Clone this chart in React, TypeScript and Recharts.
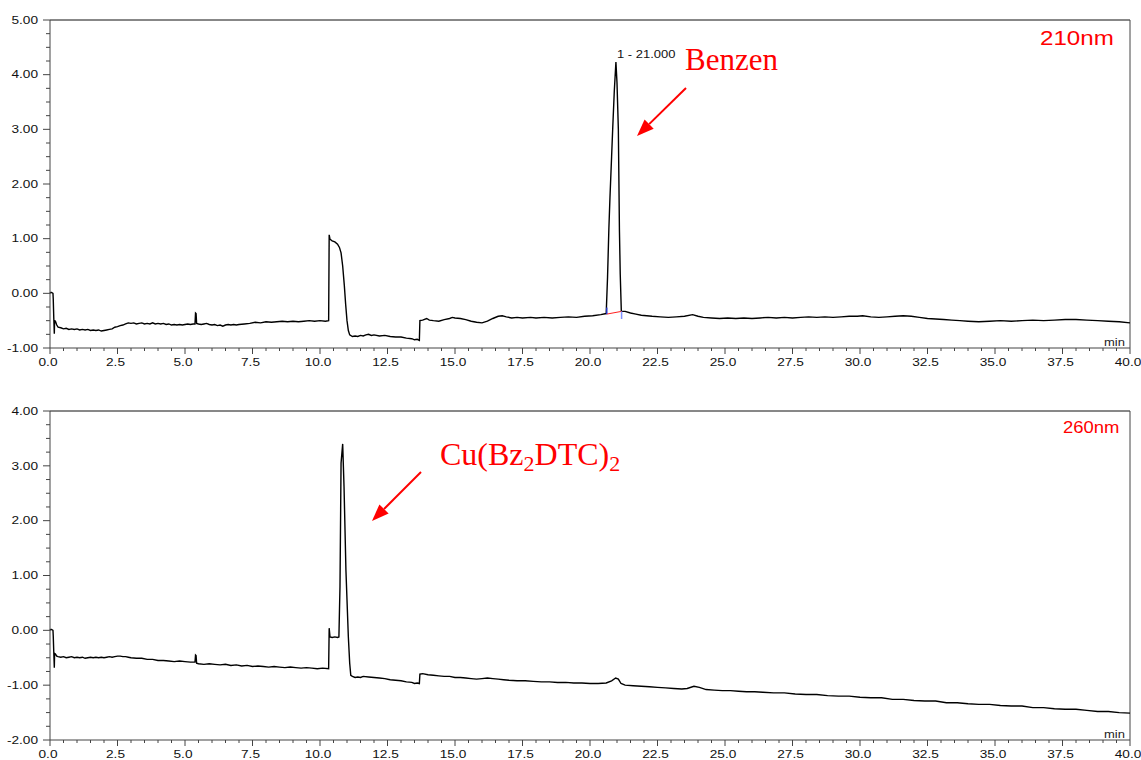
import { LineChart, Line, XAxis, YAxis, ReferenceLine, ReferenceDot } from "recharts";

// chromatogram at 210 nm: [time (min), absorbance]
const trace210: [number, number][] = [
  [0, 0.0], [0.04, 0.02], [0.08, 0.01], [0.11, 0.0], [0.12, -0.1], [0.14, -0.45], [0.16, -0.74], [0.17, -0.5],
  [0.2, -0.51], [0.25, -0.58], [0.3, -0.62], [0.4, -0.63], [0.5, -0.65], [0.6, -0.64], [0.7, -0.66], [0.8, -0.65],
  [0.9, -0.66], [1.0, -0.65], [1.1, -0.67], [1.2, -0.66], [1.3, -0.67], [1.4, -0.66], [1.5, -0.68], [1.6, -0.67],
  [1.7, -0.68], [1.8, -0.67], [1.9, -0.69], [2.0, -0.68], [2.1, -0.67], [2.2, -0.66], [2.3, -0.65], [2.4, -0.62],
  [2.5, -0.61], [2.6, -0.59], [2.7, -0.58], [2.8, -0.56], [2.9, -0.54], [3.0, -0.55], [3.1, -0.54], [3.2, -0.56],
  [3.3, -0.55], [3.4, -0.54], [3.5, -0.56], [3.6, -0.55], [3.7, -0.56], [3.8, -0.54], [3.9, -0.56], [4.0, -0.55],
  [4.1, -0.56], [4.2, -0.55], [4.3, -0.57], [4.4, -0.56], [4.5, -0.58], [4.6, -0.57], [4.7, -0.58], [4.8, -0.57],
  [4.9, -0.58], [5.0, -0.57], [5.1, -0.56], [5.2, -0.57], [5.3, -0.56], [5.37, -0.56], [5.39, -0.36], [5.41, -0.37],
  [5.43, -0.55], [5.5, -0.56], [5.6, -0.57], [5.7, -0.56], [5.8, -0.55], [5.9, -0.57], [6.0, -0.58], [6.1, -0.57],
  [6.2, -0.59], [6.3, -0.58], [6.4, -0.6], [6.5, -0.58], [6.6, -0.57], [6.7, -0.58], [6.8, -0.57], [6.9, -0.58],
  [7.0, -0.57], [7.2, -0.56], [7.4, -0.55], [7.6, -0.53], [7.8, -0.54], [8.0, -0.52], [8.2, -0.53], [8.4, -0.52],
  [8.6, -0.51], [8.8, -0.52], [9.0, -0.51], [9.2, -0.52], [9.4, -0.51], [9.6, -0.5], [9.8, -0.51], [10.0, -0.5],
  [10.2, -0.51], [10.32, -0.5], [10.34, 1.07], [10.37, 0.99], [10.45, 0.96], [10.55, 0.94], [10.65, 0.9], [10.72, 0.84],
  [10.78, 0.74], [10.84, 0.5], [10.9, 0.15], [10.95, -0.2], [11.0, -0.5], [11.05, -0.68], [11.1, -0.76], [11.2, -0.79],
  [11.3, -0.78], [11.4, -0.79], [11.5, -0.77], [11.6, -0.78], [11.7, -0.76], [11.8, -0.75], [11.9, -0.77], [12.0, -0.76],
  [12.2, -0.78], [12.4, -0.77], [12.6, -0.79], [12.8, -0.8], [13.0, -0.8], [13.2, -0.82], [13.4, -0.83], [13.5, -0.85],
  [13.6, -0.84], [13.68, -0.86], [13.7, -0.5], [13.8, -0.49], [13.95, -0.46], [14.05, -0.49], [14.2, -0.5], [14.4, -0.51],
  [14.6, -0.48], [14.8, -0.46], [14.9, -0.44], [15.0, -0.45], [15.2, -0.46], [15.4, -0.48], [15.6, -0.51], [15.8, -0.53],
  [16.0, -0.54], [16.2, -0.51], [16.4, -0.46], [16.6, -0.42], [16.75, -0.41], [16.9, -0.43], [17.1, -0.45], [17.3, -0.44],
  [17.5, -0.45], [17.8, -0.44], [18.0, -0.45], [18.3, -0.44], [18.6, -0.45], [18.9, -0.44], [19.2, -0.43], [19.5, -0.44],
  [19.8, -0.42], [20.1, -0.41], [20.4, -0.39], [20.6, -0.37], [20.65, 0.3], [20.7, 1.2], [20.74, 1.76], [20.8, 2.5],
  [20.84, 3.0], [20.9, 3.7], [20.96, 4.23], [21.0, 3.85], [21.05, 3.0], [21.09, 1.16], [21.12, 0.35], [21.16, -0.33],
  [21.3, -0.33], [21.5, -0.36], [21.7, -0.38], [21.9, -0.4], [22.1, -0.41], [22.3, -0.42], [22.6, -0.43], [22.9, -0.44],
  [23.2, -0.43], [23.5, -0.42], [23.8, -0.39], [24.0, -0.42], [24.2, -0.44], [24.5, -0.45], [24.8, -0.46], [25.1, -0.45],
  [25.4, -0.46], [25.7, -0.45], [26.0, -0.46], [26.3, -0.45], [26.6, -0.44], [26.9, -0.45], [27.2, -0.44], [27.5, -0.45],
  [27.8, -0.44], [28.1, -0.43], [28.4, -0.44], [28.7, -0.43], [29.0, -0.44], [29.3, -0.43], [29.6, -0.42], [29.9, -0.42],
  [30.1, -0.41], [30.4, -0.43], [30.7, -0.44], [31.0, -0.43], [31.3, -0.42], [31.6, -0.41], [31.9, -0.42], [32.2, -0.44],
  [32.5, -0.46], [32.8, -0.47], [33.1, -0.48], [33.4, -0.49], [33.7, -0.5], [34.0, -0.51], [34.4, -0.52], [34.8, -0.51],
  [35.2, -0.5], [35.6, -0.51], [36.0, -0.5], [36.4, -0.49], [36.8, -0.5], [37.2, -0.49], [37.6, -0.48], [38.0, -0.48],
  [38.4, -0.49], [38.8, -0.5], [39.2, -0.51], [39.6, -0.52], [40.0, -0.54],
];

// chromatogram at 260 nm
const trace260: [number, number][] = [
  [0, 0.0], [0.04, 0.02], [0.08, 0.01], [0.11, 0.0], [0.12, -0.1], [0.14, -0.4], [0.16, -0.68], [0.17, -0.42],
  [0.2, -0.43], [0.25, -0.47], [0.3, -0.48], [0.4, -0.49], [0.5, -0.48], [0.6, -0.5], [0.7, -0.49], [0.8, -0.48],
  [0.9, -0.5], [1.0, -0.49], [1.1, -0.5], [1.2, -0.49], [1.3, -0.51], [1.4, -0.5], [1.5, -0.49], [1.6, -0.5],
  [1.7, -0.49], [1.8, -0.5], [1.9, -0.49], [2.0, -0.5], [2.1, -0.49], [2.2, -0.48], [2.3, -0.49], [2.4, -0.48],
  [2.5, -0.47], [2.6, -0.47], [2.7, -0.48], [2.8, -0.48], [2.9, -0.49], [3.0, -0.5], [3.2, -0.51], [3.4, -0.51],
  [3.6, -0.53], [3.8, -0.53], [4.0, -0.55], [4.2, -0.55], [4.4, -0.56], [4.6, -0.57], [4.8, -0.56], [5.0, -0.57],
  [5.2, -0.58], [5.37, -0.58], [5.39, -0.45], [5.41, -0.46], [5.43, -0.6], [5.5, -0.61], [5.7, -0.62], [5.9, -0.61],
  [6.1, -0.62], [6.3, -0.63], [6.5, -0.62], [6.7, -0.64], [6.9, -0.63], [7.1, -0.65], [7.3, -0.64], [7.5, -0.66],
  [7.7, -0.65], [7.9, -0.66], [8.1, -0.67], [8.3, -0.66], [8.5, -0.67], [8.7, -0.68], [8.9, -0.67], [9.1, -0.68],
  [9.3, -0.69], [9.5, -0.68], [9.7, -0.69], [9.9, -0.7], [10.1, -0.69], [10.32, -0.7], [10.34, 0.04], [10.37, -0.12],
  [10.45, -0.13], [10.55, -0.12], [10.65, -0.13], [10.7, -0.12], [10.74, 0.79], [10.78, 3.05], [10.84, 3.4], [10.89, 2.62],
  [10.96, 1.1], [11.05, -0.12], [11.1, -0.6], [11.14, -0.82], [11.2, -0.84], [11.3, -0.86], [11.4, -0.85], [11.5, -0.86],
  [11.6, -0.84], [11.8, -0.85], [12.0, -0.86], [12.2, -0.87], [12.4, -0.88], [12.6, -0.9], [12.8, -0.91], [13.0, -0.92],
  [13.2, -0.94], [13.4, -0.95], [13.5, -0.97], [13.6, -0.96], [13.68, -0.97], [13.7, -0.8], [13.8, -0.79], [14.0, -0.81],
  [14.2, -0.82], [14.4, -0.83], [14.6, -0.84], [14.8, -0.84], [15.0, -0.86], [15.2, -0.86], [15.4, -0.87], [15.6, -0.88],
  [15.8, -0.89], [16.0, -0.88], [16.2, -0.87], [16.4, -0.88], [16.6, -0.89], [16.8, -0.9], [17.0, -0.91], [17.3, -0.92],
  [17.6, -0.92], [17.9, -0.93], [18.2, -0.94], [18.5, -0.94], [18.8, -0.95], [19.1, -0.95], [19.4, -0.96], [19.7, -0.96],
  [20.0, -0.97], [20.3, -0.97], [20.6, -0.96], [20.8, -0.92], [20.95, -0.87], [21.05, -0.89], [21.15, -0.97], [21.3, -1.0],
  [21.6, -1.01], [21.9, -1.02], [22.2, -1.03], [22.5, -1.04], [22.8, -1.05], [23.1, -1.06], [23.4, -1.07], [23.6, -1.06],
  [23.85, -1.02], [24.05, -1.04], [24.3, -1.08], [24.6, -1.09], [24.9, -1.1], [25.2, -1.1], [25.5, -1.11], [25.8, -1.12],
  [26.1, -1.12], [26.4, -1.13], [26.8, -1.14], [27.2, -1.14], [27.6, -1.16], [28.0, -1.17], [28.4, -1.17], [28.8, -1.19],
  [29.2, -1.2], [29.6, -1.2], [30.0, -1.22], [30.4, -1.23], [30.8, -1.23], [31.2, -1.26], [31.6, -1.26], [32.0, -1.28],
  [32.4, -1.29], [32.8, -1.29], [33.2, -1.32], [33.6, -1.32], [34.0, -1.34], [34.4, -1.35], [34.8, -1.35], [35.2, -1.37],
  [35.6, -1.38], [36.0, -1.38], [36.4, -1.41], [36.8, -1.41], [37.2, -1.43], [37.6, -1.44], [38.0, -1.44], [38.4, -1.46],
  [38.8, -1.48], [39.2, -1.48], [39.6, -1.5], [40.0, -1.51],
];

const xTicks = [
  0, 0.5, 1, 1.5, 2, 2.5, 3, 3.5, 4, 4.5, 5, 5.5, 6, 6.5, 7, 7.5, 8, 8.5, 9, 9.5,
  10, 10.5, 11, 11.5, 12, 12.5, 13, 13.5, 14, 14.5, 15, 15.5, 16, 16.5, 17, 17.5, 18, 18.5, 19, 19.5,
  20, 20.5, 21, 21.5, 22, 22.5, 23, 23.5, 24, 24.5, 25, 25.5, 26, 26.5, 27, 27.5, 28, 28.5, 29, 29.5,
  30, 30.5, 31, 31.5, 32, 32.5, 33, 33.5, 34, 34.5, 35, 35.5, 36, 36.5, 37, 37.5, 38, 38.5, 39, 39.5, 40,
];
const yTicks210 = [
  -1, -0.75, -0.5, -0.25, 0, 0.25, 0.5, 0.75, 1, 1.25, 1.5, 1.75, 2, 2.25, 2.5, 2.75, 3, 3.25, 3.5, 3.75,
  4, 4.25, 4.5, 4.75, 5,
];
const yTicks260 = [
  -2, -1.75, -1.5, -1.25, -1, -0.75, -0.5, -0.25, 0, 0.25, 0.5, 0.75, 1, 1.25, 1.5, 1.75, 2, 2.25, 2.5, 2.75,
  3, 3.25, 3.5, 3.75, 4,
];

const data210 = trace210.map(([t, v]) => ({ t, v }));
const data260 = trace260.map(([t, v]) => ({ t, v }));

const sans = "'Liberation Sans', Arial, sans-serif";
const serif = "'Liberation Serif', 'Times New Roman', serif";
const axisColor = "#444";

function XTick(props: any) {
  const { x, y, payload } = props;
  const v = payload.value as number;
  const major = Math.abs(v / 2.5 - Math.round(v / 2.5)) < 1e-6;
  return (
    <g>
      <line x1={x} y1={y} x2={x} y2={y + (major ? 6 : 3)} stroke={axisColor} />
      {major && (
        <text
          transform={`translate(${x - 2},${y + 18}) scale(1.3,1)`}
          textAnchor="middle"
          fontSize={10.5}
          fontFamily={sans}
          fill="#111"
        >
          {v.toFixed(1)}
        </text>
      )}
    </g>
  );
}

function YTick(props: any) {
  const { x, y, payload } = props;
  const v = payload.value as number;
  const major = Number.isInteger(v);
  return (
    <g>
      <line x1={x - (major ? 7 : 4)} y1={y} x2={x} y2={y} stroke={axisColor} />
      {major && (
        <text
          transform={`translate(${x - 12},${y + 3.8}) scale(1.3,1)`}
          textAnchor="end"
          fontSize={10.5}
          fontFamily={sans}
          fill="#111"
        >
          {v.toFixed(2)}
        </text>
      )}
    </g>
  );
}

function PeakLabel(props: any) {
  const { viewBox } = props;
  return (
    <text
      transform={`translate(${viewBox.x},${viewBox.y - 4}) scale(1.3,1)`}
      fontSize={10}
      fontFamily={sans}
      fill="#111"
    >
      1 - 21.000
    </text>
  );
}

function Arrow({ x1, y1, x2, y2 }: { x1: number; y1: number; x2: number; y2: number }) {
  const dx = x2 - x1;
  const dy = y2 - y1;
  const len = Math.hypot(dx, dy);
  const ux = dx / len;
  const uy = dy / len;
  const bx = x2 - ux * 17;
  const by = y2 - uy * 17;
  const px = -uy * 6.5;
  const py = ux * 6.5;
  return (
    <g>
      <line x1={x1} y1={y1} x2={bx} y2={by} stroke="#ff0000" strokeWidth={2} />
      <polygon points={`${x2},${y2} ${bx + px},${by + py} ${bx - px},${by - py}`} fill="#ff0000" />
    </g>
  );
}

export default function App() {
  return (
    <div
      style={{
        position: "absolute",
        left: 0,
        top: 0,
        width: 1141,
        height: 760,
        background: "#fff",
        overflow: "hidden",
      }}
    >
      <div style={{ position: "absolute", left: 0, top: 0 }}>
        <LineChart width={1141} height={372} data={data210} margin={{ top: 20, right: 11, bottom: 0, left: 0 }}>
          <XAxis
            type="number"
            dataKey="t"
            domain={[0, 40]}
            ticks={xTicks}
            interval={0}
            tick={(p: any) => <XTick {...p} />}
            tickLine={false}
            tickSize={0}
            tickMargin={0}
            height={24}
            axisLine={{ stroke: axisColor }}
          />
          <YAxis
            type="number"
            domain={[-1, 5]}
            ticks={yTicks210}
            interval={0}
            tick={(p: any) => <YTick {...p} />}
            tickLine={false}
            tickSize={0}
            tickMargin={0}
            width={50}
            axisLine={{ stroke: axisColor }}
            allowDataOverflow
          />
          <ReferenceLine y={5} stroke="#111" />
          <ReferenceLine x={40} stroke={axisColor} />
          <Line type="linear" dataKey="v" stroke="#000" strokeWidth={1.4} dot={false} isAnimationActive={false} />
          <ReferenceLine segment={[{ x: 20.62, y: -0.38 }, { x: 21.17, y: -0.33 }]} stroke="#ff2020" />
          <ReferenceLine segment={[{ x: 20.62, y: -0.38 }, { x: 20.62, y: -0.26 }]} stroke="#2030c0" strokeWidth={1.5} />
          <ReferenceLine segment={[{ x: 21.17, y: -0.33 }, { x: 21.17, y: -0.47 }]} stroke="#8090ff" strokeWidth={1.5} />
          <ReferenceDot x={21.0} y={4.23} r={0} stroke="none" fill="none" label={(p: any) => <PeakLabel {...p} />} />
        </LineChart>
      </div>
      <div style={{ position: "absolute", left: 0, top: 391 }}>
        <LineChart width={1141} height={369} data={data260} margin={{ top: 20, right: 11, bottom: 0, left: 0 }}>
          <XAxis
            type="number"
            dataKey="t"
            domain={[0, 40]}
            ticks={xTicks}
            interval={0}
            tick={(p: any) => <XTick {...p} />}
            tickLine={false}
            tickSize={0}
            tickMargin={0}
            height={20}
            axisLine={{ stroke: axisColor }}
          />
          <YAxis
            type="number"
            domain={[-2, 4]}
            ticks={yTicks260}
            interval={0}
            tick={(p: any) => <YTick {...p} />}
            tickLine={false}
            tickSize={0}
            tickMargin={0}
            width={50}
            axisLine={{ stroke: axisColor }}
            allowDataOverflow
          />
          <ReferenceLine y={4} stroke="#111" />
          <ReferenceLine x={40} stroke={axisColor} />
          <Line type="linear" dataKey="v" stroke="#000" strokeWidth={1.4} dot={false} isAnimationActive={false} />
        </LineChart>
      </div>
      <svg
        width={1141}
        height={760}
        style={{ position: "absolute", left: 0, top: 0, pointerEvents: "none" }}
      >
        <text transform="translate(1040,45) scale(1.15,1)" fontSize={21} fontFamily={sans} fill="#ff0000">
          210nm
        </text>
        <text transform="translate(1063,433) scale(1.12,1)" fontSize={16.5} fontFamily={sans} fill="#ff0000">
          260nm
        </text>
        <text transform="translate(1104,346) scale(1.3,1)" fontSize={10} fontFamily={sans} fill="#222">
          min
        </text>
        <text transform="translate(1104,738) scale(1.3,1)" fontSize={10} fontFamily={sans} fill="#222">
          min
        </text>
        <text x={685} y={70} fontSize={31} fontFamily={serif} fill="#ff0000">
          Benzen
        </text>
        <text x={440} y={465} fontSize={32} fontFamily={serif} fill="#ff0000">
          Cu(Bz
          <tspan fontSize={22} dy={6}>2</tspan>
          <tspan dy={-6}>DTC)</tspan>
          <tspan fontSize={22} dy={6}>2</tspan>
        </text>
        <Arrow x1={686} y1={88} x2={637} y2={136} />
        <Arrow x1={421} y1={472} x2={372} y2={521} />
      </svg>
    </div>
  );
}
